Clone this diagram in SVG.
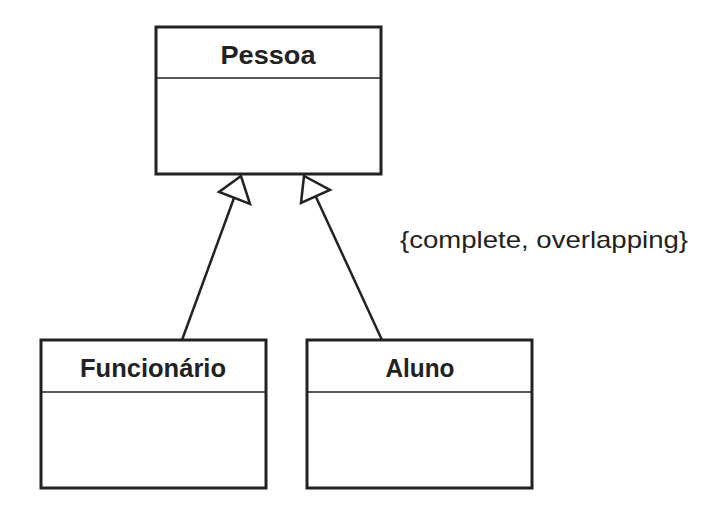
<svg xmlns="http://www.w3.org/2000/svg" width="721" height="515" viewBox="0 0 721 515">
<style>
.box{fill:#fff;stroke:#222;stroke-width:3}
.div{stroke:#222;stroke-width:1.5}
.t{font-family:"Liberation Sans",Arial,sans-serif;font-weight:bold;font-size:25px;fill:#222;text-anchor:middle}
.c{stroke:#222;stroke-width:2.5;fill:none}
.h{fill:#fff;stroke:#222;stroke-width:2.5}
</style>
<rect width="721" height="515" fill="#fff"/>
<g id="pessoa"><rect class="box" x="156" y="27" width="225" height="147"/><line class="div" x1="156" y1="78" x2="381" y2="78"/><text class="t" x="268" y="64" textLength="95" lengthAdjust="spacingAndGlyphs">Pessoa</text></g>
<g id="funcionario"><rect class="box" x="41" y="340" width="225" height="148"/><line class="div" x1="41" y1="392" x2="266" y2="392"/><text class="t" x="153" y="377" textLength="146" lengthAdjust="spacingAndGlyphs">Funcionário</text></g>
<g id="aluno"><rect class="box" x="307" y="340" width="225" height="148"/><line class="div" x1="307" y1="392" x2="532" y2="392"/><text class="t" x="420" y="377" textLength="69" lengthAdjust="spacingAndGlyphs">Aluno</text></g>
<g id="connectors">
<line class="c" x1="182" y1="340" x2="234" y2="198"/>
<polygon class="h" points="241,176 219,192 250,204"/>
<line class="c" x1="382" y1="340" x2="316" y2="197"/>
<polygon class="h" points="304,176 301,203 330,190"/>
</g>
<text x="400" y="248" textLength="288" lengthAdjust="spacingAndGlyphs" style="font-family:'Liberation Sans',Arial,sans-serif;font-size:24px;fill:#222">{complete, overlapping}</text>
</svg>
